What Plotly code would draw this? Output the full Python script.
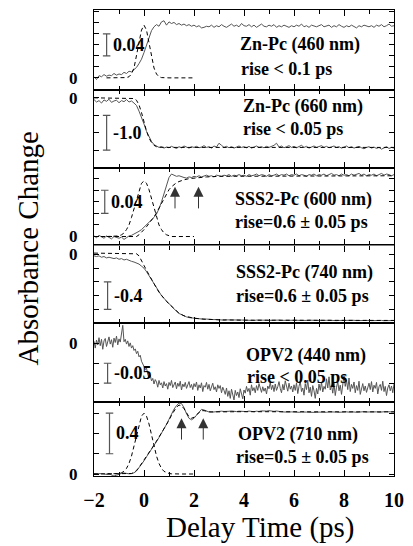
import plotly.graph_objects as go
from plotly.subplots import make_subplots

# ---------------- data ----------------
T = [round(-2 + 0.1 * i, 1) for i in range(121)]          # delay time grid (ps)
T_FINE = [round(-2 + 0.05 * i, 2) for i in range(241)]    # finer grid for the noisy OPV2 440 trace
PULSE_T = [round(-1.5 + 0.1 * i, 1) for i in range(36)]    # pulse trace grid (ps)

ZNPC_460 = [0.002, -0.003, 0.004, 0.002, 0.006, 0.003, 0.005, 0.004, 0.008, 0.005,
            0.007, 0.006, 0.010, 0.008, 0.012, 0.011, 0.015, 0.019, 0.026, 0.034,
            0.046, 0.060, 0.074, 0.086, 0.093, 0.097, 0.094, 0.102, 0.104, 0.096,
            0.102, 0.099, 0.101, 0.097, 0.099, 0.096, 0.098, 0.095, 0.097, 0.094,
            0.096, 0.093, 0.095, 0.091, 0.092, 0.094, 0.093, 0.096, 0.092, 0.095,
            0.093, 0.097, 0.094, 0.092, 0.095, 0.098, 0.094, 0.096, 0.093, 0.099,
            0.095, 0.094, 0.097, 0.093, 0.096, 0.092, 0.095, 0.098, 0.094, 0.093,
            0.096, 0.094, 0.097, 0.092, 0.095, 0.093, 0.096, 0.094, 0.092, 0.095,
            0.093, 0.096, 0.094, 0.098, 0.093, 0.095, 0.092, 0.096, 0.094, 0.093,
            0.095, 0.097, 0.093, 0.094, 0.096, 0.092, 0.095, 0.093, 0.097, 0.094,
            0.092, 0.095, 0.093, 0.096, 0.094, 0.091, 0.095, 0.093, 0.096, 0.094,
            0.093, 0.095, 0.092, 0.096, 0.094, 0.097, 0.093, 0.095, 0.098, 0.094,
            0.095]
PULSE_460 = [0, 0, 0, 0, 0, 0, 0, 0,
             0.0005, 0.002, 0.007, 0.018, 0.038, 0.064, 0.087, 0.096, 0.087, 0.064,
             0.038, 0.018, 0.007, 0.002, 0.0005,
             0, 0, 0, 0, 0, 0, 0, 0, 0, 0, 0, 0, 0]

ZNPC_660 = [-0.05, -0.12, -0.08, -0.15, -0.06, -0.10, -0.04, -0.13, -0.09, -0.07,
            -0.14, -0.08, -0.11, -0.05, -0.12, -0.09, -0.15, -0.22, -0.38, -0.55,
            -0.75, -0.96, -1.12, -1.25, -1.34, -1.39, -1.42, -1.40, -1.44, -1.41,
            -1.43, -1.39, -1.42, -1.45, -1.40, -1.43, -1.38, -1.42, -1.44, -1.40,
            -1.42, -1.39, -1.43, -1.41, -1.37, -1.42, -1.40, -1.44, -1.38, -1.41,
            -1.30, -1.36, -1.42, -1.39, -1.43, -1.40, -1.44, -1.41, -1.38, -1.42,
            -1.40, -1.43, -1.39, -1.44, -1.41, -1.38, -1.42, -1.40, -1.43, -1.39,
            -1.42, -1.40, -1.36, -1.30, -1.41, -1.38, -1.43, -1.40, -1.37, -1.42,
            -1.39, -1.43, -1.40, -1.36, -1.42, -1.39, -1.44, -1.41, -1.38, -1.42,
            -1.40, -1.37, -1.42, -1.39, -1.43, -1.41, -1.38, -1.42, -1.40, -1.44,
            -1.41, -1.38, -1.43, -1.40, -1.44, -1.41, -1.39, -1.43, -1.46, -1.42,
            -1.40, -1.44, -1.41, -1.45, -1.42, -1.47, -1.43, -1.40, -1.45, -1.42,
            -1.44]
FIT_660_T = [-2, -0.5, -0.4, -0.3, -0.2, -0.1, 0, 0.1, 0.2, 0.3, 0.4, 0.5, 0.6, 0.8, 1.0, 10]
FIT_660 = [0, 0, -0.02, -0.07, -0.2, -0.42, -0.7, -0.95, -1.15, -1.28, -1.36, -1.40,
           -1.415, -1.42, -1.42, -1.42]

SSS2_600 = [0.001, -0.002, 0.002, 0.000, -0.003, 0.001, -0.001, -0.004, 0.000, -0.002,
            -0.003, -0.001, -0.005, -0.002, 0.001, 0.002, 0.004, 0.006, 0.009, 0.012,
            0.016, 0.020, 0.024, 0.028, 0.033, 0.039, 0.048, 0.060, 0.074, 0.090,
            0.102, 0.108, 0.106, 0.104, 0.105, 0.103, 0.102, 0.101, 0.103, 0.102,
            0.104, 0.103, 0.105, 0.103, 0.104, 0.106, 0.104, 0.105, 0.103, 0.106,
            0.105, 0.104, 0.106, 0.105, 0.107, 0.104, 0.106, 0.105, 0.107, 0.105,
            0.106, 0.104, 0.107, 0.105, 0.106, 0.108, 0.105, 0.107, 0.106, 0.104,
            0.107, 0.105, 0.106, 0.108, 0.105, 0.107, 0.106, 0.108, 0.105, 0.107,
            0.106, 0.108, 0.105, 0.107, 0.106, 0.104, 0.107, 0.106, 0.108, 0.105,
            0.107, 0.106, 0.108, 0.105, 0.107, 0.109, 0.106, 0.107, 0.105, 0.108,
            0.106, 0.107, 0.105, 0.108, 0.106, 0.107, 0.109, 0.106, 0.108, 0.105,
            0.107, 0.106, 0.108, 0.105, 0.107, 0.109, 0.106, 0.108, 0.107, 0.105,
            0.107]
FIT_600_T = [-2, -0.3, -0.2, -0.1, 0, 0.1, 0.2, 0.3, 0.4, 0.5, 0.6, 0.7, 0.8, 0.9, 1.0,
             1.1, 1.2, 1.3, 1.4, 1.5, 1.6, 1.8, 2.0, 2.5, 3.0, 10]
FIT_600 = [0, 0, 0.003, 0.007, 0.012, 0.017, 0.022, 0.028, 0.034, 0.041, 0.049, 0.058,
           0.066, 0.074, 0.081, 0.086, 0.090, 0.093, 0.095, 0.097, 0.098, 0.100, 0.101,
           0.103, 0.104, 0.105]
PULSE_600 = [0, 0, 0, 0, 0,
             0.001, 0.003, 0.006, 0.012, 0.020, 0.033, 0.048, 0.065, 0.081, 0.092, 0.096,
             0.092, 0.081, 0.065, 0.048, 0.033, 0.020, 0.012, 0.006, 0.003, 0.001,
             0, 0, 0, 0, 0, 0, 0, 0, 0, 0]
ARROWS_600 = [1.24, 2.18]

SSS2_740 = [-0.02, -0.03, -0.02, -0.04, -0.03, -0.05, -0.04, -0.05, -0.06, -0.05,
            -0.07, -0.06, -0.08, -0.07, -0.09, -0.10, -0.11, -0.12, -0.14, -0.17,
            -0.20, -0.25, -0.31, -0.37, -0.43, -0.49, -0.55, -0.60, -0.64, -0.68,
            -0.72, -0.76, -0.79, -0.83, -0.86, -0.88, -0.90, -0.91, -0.92, -0.925,
            -0.93, -0.935, -0.94, -0.938, -0.945, -0.942, -0.948, -0.946, -0.95, -0.948,
            -0.955, -0.952, -0.958, -0.954, -0.956, -0.953, -0.958, -0.955, -0.96, -0.956,
            -0.957, -0.961, -0.956, -0.959, -0.962, -0.957, -0.96, -0.958, -0.963, -0.959,
            -0.961, -0.958, -0.962, -0.96, -0.957, -0.961, -0.959, -0.963, -0.96, -0.958,
            -0.962, -0.959, -0.961, -0.964, -0.96, -0.962, -0.958, -0.961, -0.963, -0.96,
            -0.962, -0.96, -0.964, -0.961, -0.959, -0.963, -0.961, -0.965, -0.962, -0.96,
            -0.963, -0.961, -0.964, -0.962, -0.96, -0.964, -0.962, -0.965, -0.961, -0.963,
            -0.962, -0.965, -0.963, -0.961, -0.964, -0.962, -0.966, -0.963, -0.961, -0.964,
            -0.963]
FIT_740_T = [-2, -0.4, -0.3, -0.2, -0.1, 0.0, 0.1, 0.2, 0.3, 0.4, 0.5, 0.6, 0.7, 0.8, 0.9,
             1.0, 1.2, 1.4, 1.6, 1.8, 2.0, 2.5, 3.0, 4.0, 10]
FIT_740 = [0.02, 0.02, 0.01, -0.02, -0.08, -0.16, -0.23, -0.30, -0.37, -0.43, -0.49, -0.55,
           -0.60, -0.645, -0.685, -0.72, -0.79, -0.855, -0.895, -0.918, -0.93, -0.945,
           -0.953, -0.958, -0.962]

OPV2_440 = [0.005, -0.012, 0.008, -0.004, 0.014, -0.006, 0.010, -0.015, 0.006, 0.012,
            -0.008, 0.004, 0.016, -0.002, 0.009, -0.010, 0.013, 0.002, 0.018, -0.004,
            0.011, 0.003, 0.020, 0.045,
            0.004, 0.010, -0.002, 0.006, -0.008, 0.001, -0.012, -0.006, -0.018, -0.014,
            -0.026, -0.020, -0.034, -0.030, -0.045, -0.050,
            -0.058, -0.066, -0.062, -0.078, -0.085, -0.080, -0.094, -0.088, -0.102, -0.091,
            -0.097, -0.110, -0.093, -0.104, -0.099, -0.112, -0.096, -0.107, -0.101, -0.115,
            -0.098, -0.106, -0.093, -0.111, -0.103, -0.097, -0.114, -0.100, -0.108, -0.095,
            -0.117, -0.102, -0.109, -0.098, -0.113, -0.104, -0.096, -0.111, -0.103, -0.116,
            -0.101, -0.109, -0.097, -0.118, -0.104, -0.112, -0.099, -0.121, -0.106, -0.110,
            -0.098, -0.115, -0.103, -0.119, -0.107, -0.100, -0.116, -0.109, -0.122, -0.104,
            -0.113, -0.106, -0.124, -0.110, -0.118, -0.128, -0.112, -0.133, -0.119, -0.138,
            -0.115, -0.126, -0.142, -0.118, -0.131, -0.122, -0.136, -0.114, -0.128, -0.139,
            -0.117, -0.125, -0.108, -0.121, -0.113, -0.130, -0.104, -0.119, -0.111, -0.124,
            -0.106, -0.118, -0.101, -0.115, -0.123, -0.109, -0.120, -0.112, -0.127, -0.107,
            -0.114, -0.098, -0.116, -0.105, -0.121, -0.102, -0.118, -0.109, -0.096, -0.113,
            -0.124, -0.103, -0.117, -0.094, -0.111, -0.120, -0.100, -0.115, -0.107, -0.122,
            -0.104, -0.118, -0.099, -0.126, -0.108, -0.095, -0.121, -0.112, -0.130, -0.101,
            -0.116, -0.092, -0.124, -0.110, -0.133, -0.106, -0.119, -0.138, -0.113, -0.127,
            -0.102, -0.118, -0.097, -0.122, -0.108, -0.115, -0.089, -0.112, -0.084, -0.117,
            -0.104, -0.125, -0.100, -0.131, -0.110, -0.096, -0.119, -0.105, -0.128, -0.099,
            -0.080, -0.108, -0.092, -0.116, -0.087, -0.121, -0.103, -0.113, -0.097, -0.124,
            -0.106, -0.118, -0.095, -0.128, -0.110, -0.101, -0.119, -0.107, -0.123, -0.112,
            -0.100, -0.116, -0.096, -0.122, -0.105, -0.113, -0.098, -0.127, -0.109, -0.103,
            -0.118, -0.095, -0.121, -0.108, -0.131, -0.112, -0.104, -0.119, -0.107, -0.124,
            -0.102]

OPV2_710 = [0.005, 0.002, 0.006, 0.003, 0.001, -0.004, 0.002, -0.010, -0.020, -0.012,
            0.000, 0.006, 0.010, 0.004, 0.002, 0.004, 0.012, 0.030, 0.060, 0.095,
            0.130, 0.170, 0.205, 0.245, 0.280, 0.320, 0.360, 0.400, 0.445, 0.490,
            0.540, 0.595, 0.640, 0.675, 0.700, 0.695, 0.655, 0.595, 0.550, 0.535,
            0.550, 0.580, 0.615, 0.638, 0.632, 0.620, 0.612, 0.610, 0.614, 0.618,
            0.616, 0.620, 0.617, 0.615, 0.619, 0.622, 0.618, 0.616, 0.620, 0.617,
            0.619, 0.616, 0.621, 0.618, 0.615, 0.620, 0.617, 0.623, 0.619, 0.621,
            0.625, 0.620, 0.618, 0.622, 0.616, 0.614, 0.612, 0.615, 0.611, 0.613,
            0.610, 0.613, 0.609, 0.612, 0.608, 0.611, 0.609, 0.607, 0.610, 0.608,
            0.611, 0.608, 0.612, 0.609, 0.613, 0.610, 0.608, 0.611, 0.609, 0.612,
            0.610, 0.613, 0.611, 0.614, 0.612, 0.609, 0.613, 0.611, 0.615, 0.612,
            0.614, 0.611, 0.615, 0.613, 0.610, 0.614, 0.612, 0.616, 0.613, 0.615,
            0.614]
FIT_710_T = [-2, -0.6, -0.5, -0.4, -0.3, -0.2, -0.1, 0, 0.2, 0.4, 0.6, 0.8, 1.0, 1.1, 1.2,
             1.3, 1.4, 1.5, 1.6, 1.7, 1.8, 1.9, 2.0, 2.1, 2.2, 2.3, 2.4, 2.5, 2.6, 2.8,
             3.0, 4, 10]
FIT_710 = [0, 0, 0.005, 0.015, 0.035, 0.065, 0.10, 0.135, 0.21, 0.285, 0.365, 0.445, 0.53,
           0.58, 0.625, 0.66, 0.68, 0.675, 0.645, 0.60, 0.565, 0.55, 0.56, 0.585, 0.61,
           0.625, 0.625, 0.618, 0.614, 0.613, 0.614, 0.615, 0.613]
PULSE_710 = [0, 0, 0, 0,
             0.002, 0.005, 0.012, 0.026, 0.055, 0.104, 0.177, 0.275, 0.387, 0.494, 0.571,
             0.600, 0.571, 0.494, 0.387, 0.275, 0.177, 0.104, 0.055, 0.026, 0.012, 0.005,
             0.002, 0, 0, 0, 0, 0, 0, 0, 0, 0]
ARROWS_710 = [1.5, 2.37]

LABELS = [("Zn-Pc (460 nm)", "rise < 0.1 ps"),
          ("Zn-Pc (660 nm)", "rise < 0.05 ps"),
          ("SSS2-Pc (600 nm)", "rise=0.6 ± 0.05 ps"),
          ("SSS2-Pc (740 nm)", "rise=0.6 ± 0.05 ps"),
          ("OPV2 (440 nm)", "rise < 0.05 ps"),
          ("OPV2 (710 nm)", "rise=0.5 ± 0.05 ps")]
SCALE_BARS = [(0.04, 0.08, "0.04"), (-0.5, -1.5, "-1.0"), (0.04, 0.08, "0.04"),
              (-0.4, -0.8, "-0.4"), (-0.05, -0.10, "-0.05"), (0.2, 0.6, "0.4")]
Y_RANGES = [[-0.0218, 0.1236], [-2.0, 0.229], [-0.0155, 0.119],
            [-1.004, 0.131], [-0.1475, 0.05], [-0.0197, 0.709]]
Y_TICKS = [[0, 0.02, 0.04, 0.06, 0.08, 0.10, 0.12], [0, -0.5, -1.0, -1.5],
           [0, 0.02, 0.04, 0.06, 0.08, 0.10], [0, -0.2, -0.4, -0.6, -0.8],
           [0, -0.05, -0.10], [0, 0.2, 0.4, 0.6]]
X_TICKS = [-2, 0, 2, 4, 6, 8, 10]

# ---------------- figure ----------------
FONT = "Liberation Serif"
W, H = 413, 546
ML, MT = 94, 9
PW, PH = 309, 467
MR, MB = W - ML - PW, H - MT - PH

fig = make_subplots(rows=6, cols=1, shared_xaxes=True, vertical_spacing=0,
                    row_heights=[80, 78, 78, 78, 79, 74])

DATA_COL = "#555555"
dash = "4px,3px"

def data_line(x, y, row):
    fig.add_trace(go.Scatter(x=x, y=y, mode="lines", line=dict(color=DATA_COL, width=1),
                             showlegend=False, hoverinfo="skip"), row=row, col=1)

def dashed_line(x, y, row):
    fig.add_trace(go.Scatter(x=x, y=y, mode="lines",
                             line=dict(color="black", width=1, dash=dash),
                             showlegend=False, hoverinfo="skip"), row=row, col=1)

data_line(T, ZNPC_460, 1)
dashed_line(PULSE_T, PULSE_460, 1)

data_line(T, ZNPC_660, 2)
dashed_line(FIT_660_T, FIT_660, 2)

data_line(T, SSS2_600, 3)
dashed_line(FIT_600_T, FIT_600, 3)
dashed_line(PULSE_T, PULSE_600, 3)

data_line(T, SSS2_740, 4)
dashed_line(FIT_740_T, FIT_740, 4)

data_line(T_FINE, OPV2_440, 5)

data_line(T, OPV2_710, 6)
dashed_line(FIT_710_T, FIT_710, 6)
dashed_line(PULSE_T, PULSE_710, 6)

for i in range(1, 7):
    fig.update_xaxes(row=i, col=1, range=[-2, 10], showline=True, linecolor="black",
                     linewidth=1.2, mirror="ticks", ticks="inside", ticklen=6,
                     tickwidth=1.2, tickcolor="black", tickvals=X_TICKS,
                     minor=dict(dtick=1, tick0=0, ticks="inside", ticklen=4,
                                tickcolor="black", tickwidth=1),
                     showgrid=False, zeroline=False, showticklabels=(i == 6),
                     tickfont=dict(family=FONT, size=20, color="black", weight="bold"),
                     ticklabelstandoff=6, ticklabeloverflow="allow")
    tv = Y_TICKS[i - 1]
    fig.update_yaxes(row=i, col=1, range=Y_RANGES[i - 1], showline=True, linecolor="black",
                     linewidth=1.2, mirror="ticks", ticks="inside", ticklen=5,
                     tickwidth=1, tickcolor="black", tickvals=tv,
                     ticktext=["0" if v == 0 else "" for v in tv],
                     showgrid=False, zeroline=False,
                     tickfont=dict(family=FONT, size=17, color="black", weight="bold"),
                     ticklabelstandoff=12)

def px_to_paper_x(px):
    return (px - ML) / PW

def px_to_paper_y(py):
    return (MT + PH - py) / PH

# panel labels (positions in picture pixels)
label_pos = [((242, 44), (243, 68)), ((245, 106), (245, 128)), ((237, 199), (237, 221)),
             ((238, 272), (238, 296)), ((248, 355), (250, 377)), ((240, 434), (238, 457))]
for (l1, l2), ((x1, y1), (x2, y2)) in zip(LABELS, label_pos):
    for txt, xx, yy in ((l1, x1, y1), (l2, x2, y2)):
        fig.add_annotation(text=txt, xref="paper", yref="paper",
                           x=px_to_paper_x(xx), y=px_to_paper_y(yy),
                           xanchor="left", yanchor="middle", showarrow=False,
                           font=dict(family=FONT, size=18, color="black", weight="bold"))

# scale bars
bar_x = [-1.495, -1.495, -1.57, -1.456, -1.456, -1.38]
cap = 0.15
for i, ((y0, y1, lab), bx) in enumerate(zip(SCALE_BARS, bar_x), start=1):
    xr = "x" if i == 1 else f"x{i}"
    yr = "y" if i == 1 else f"y{i}"
    line = dict(color="#555555", width=1.2)
    fig.add_shape(type="line", xref=xr, yref=yr, x0=bx, x1=bx, y0=y0, y1=y1, line=line)
    fig.add_shape(type="line", xref=xr, yref=yr, x0=bx - cap, x1=bx + cap, y0=y0, y1=y0, line=line)
    fig.add_shape(type="line", xref=xr, yref=yr, x0=bx - cap, x1=bx + cap, y0=y1, y1=y1, line=line)
    fig.add_annotation(text=lab, xref=xr, yref=yr, x=bx + 0.17, y=(y0 + y1) / 2,
                       xanchor="left", yanchor="middle", showarrow=False,
                       font=dict(family=FONT, size=18, color="black", weight="bold"))

# arrows
for ax_t in ARROWS_600:
    fig.add_annotation(x=ax_t, y=0.086, ax=ax_t, ay=0.046, xref="x3", yref="y3",
                       axref="x3", ayref="y3", text="", showarrow=True, arrowhead=2,
                       arrowsize=2, arrowwidth=1, arrowcolor="#333333")
for ax_t in ARROWS_710:
    fig.add_annotation(x=ax_t, y=0.55, ax=ax_t, ay=0.325, xref="x6", yref="y6",
                       axref="x6", ayref="y6", text="", showarrow=True, arrowhead=2,
                       arrowsize=2, arrowwidth=1, arrowcolor="#333333")

# axis titles
fig.add_annotation(text="Delay Time (ps)", xref="paper", yref="paper",
                   x=px_to_paper_x(266), y=px_to_paper_y(528), xanchor="center",
                   yanchor="middle", showarrow=False,
                   font=dict(family=FONT, size=29, color="black"))
fig.add_annotation(text="Absorbance Change", xref="paper", yref="paper",
                   x=px_to_paper_x(27), y=px_to_paper_y(248), xanchor="center",
                   yanchor="middle", showarrow=False, textangle=-90,
                   font=dict(family=FONT, size=29, color="black"))

fig.update_layout(width=W, height=H, margin=dict(l=ML, r=MR, t=MT, b=MB),
                  plot_bgcolor="white", paper_bgcolor="white", showlegend=False)

fig.write_html("out.html", config={"displayModeBar": False},
               post_script="document.body.style.margin='0';document.body.style.overflow='hidden';")
